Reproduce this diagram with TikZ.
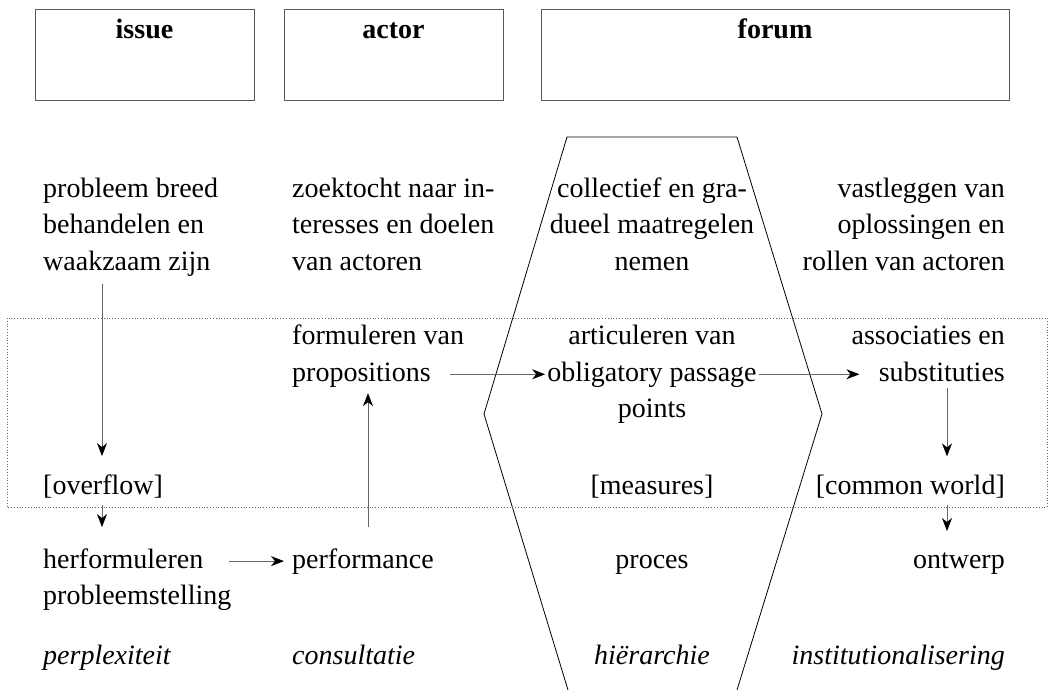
\documentclass[tikz,border=0pt]{standalone}
\usepackage{fontspec}
\setmainfont{Liberation Serif}
\usetikzlibrary{arrows.meta}
\usetikzlibrary{positioning}

\begin{document}
\begin{tikzpicture} [
          x=1pt, y=-1pt,
          txt/.style = {inner sep=0pt, font=\fontsize{28}{36.5}\selectfont},
          lft/.style = {txt, align=left, anchor=base west},
          rgt/.style = {txt, align=right, anchor=base east},
          mid/.style = {txt, align=center, anchor=base},
          hdrbox/.style = {draw=black!65, line width=1.2pt, minimum height=91pt, inner sep=0pt, anchor=north west},
          hdr/.style = {inner sep=0pt, anchor=base, font=\fontsize{28}{30}\selectfont\bfseries},
          arr/.style = {draw=black!60, line width=1pt, -{Stealth[length=13pt,width=10pt,inset=4pt,black]}}
          ]
          \useasboundingbox (0,0) rectangle (1051,690);
          % kolomkoppen
          \node[hdrbox, minimum width=219pt] (issuebox) at (35,9) {};
          \node[hdrbox, minimum width=219pt] (actorbox) at (284,9) {};
          \node[hdrbox, minimum width=468pt] (forumbox) at (541,9) {};
          \node[hdr] (issue) at (144.5,39) {issue};
          \node[hdr] (actor) at (393.5,39) {actor};
          \node[hdr] (forum) at (775,39) {forum};
          % zeshoek en kader
          \draw[black, line width=0.8pt] (568,690) -- (484,414) -- (567,137) -- (737,137) -- (822,414) -- (737,690);
          \draw[black!60, dotted, line width=0.8pt] (7,318) rectangle (1047,507);
          % kolommen voor de pijlen
          \coordinate (lcol) at (102,0);
          \coordinate (acol) at (368,0);
          \coordinate (rcol) at (947,0);
          % rij 1 (base = laatste regel)
          \node[lft] (probl) at (43,270) {probleem breed\\behandelen en\\waakzaam zijn};
          \node[lft] (zoek) at (292,270) {zoektocht naar in-\\teresses en doelen\\van actoren};
          \node[mid] (coll) at (652,270) {collectief en gra-\\dueel maatregelen\\nemen};
          \node[rgt] (vast) at (1005,270) {vastleggen van\\oplossingen en\\rollen van actoren};
          % rij 2
          \node[lft] (form) at (292,381) {formuleren van\\propositions};
          \node[mid] (artic) at (652,417.5) {articuleren van\\obligatory passage\\points};
          \node[rgt] (assoc) at (1005,381) {associaties en\\substituties};
          % rij 3
          \node[lft] (overflow) at (43,494) {[overflow]};
          \node[mid] (measures) at (652,494) {[measures]};
          \node[rgt] (common) at (1005,494) {[common world]};
          % rij 4
          \node[lft] (herf) at (43,604.5) {herformuleren\\probleemstelling};
          \node[lft] (perf) at (292,568) {performance};
          \node[mid] (proces) at (652,568) {proces};
          \node[rgt] (ontwerp) at (1005,568) {ontwerp};
          % rij 5
          \node[lft, font=\fontsize{28}{36.5}\selectfont\itshape] (perpl) at (43,664) {perplexiteit};
          \node[lft, font=\fontsize{28}{36.5}\selectfont\itshape] (consult) at (292,664) {consultatie};
          \node[mid, font=\fontsize{28}{36.5}\selectfont\itshape] (hier) at (652,664) {hiërarchie};
          \node[rgt, font=\fontsize{28}{36.5}\selectfont\itshape] (instit) at (1005,664) {institutionalisering};
          % pijlen
          \draw[arr, shorten <=8pt, shorten >=18pt] (probl.south -| lcol) -- (overflow.north -| lcol);
          \draw[arr, shorten <=7pt, shorten >=21pt] (overflow.south -| lcol) -- (herf.north -| lcol);
          \draw[arr, shorten <=21pt, shorten >=6pt] (perf.north -| acol) -- (form.south -| acol);
          \draw[arr, shorten <=-14pt, shorten >=2pt] (form.east |- artic.west) -- (artic.west);
          \draw[arr, shorten <=2pt, shorten >=-8pt] (artic.east) -- (assoc.west |- artic.east);
          \draw[arr, shorten <=7pt, shorten >=18pt] (assoc.south -| rcol) -- (common.north -| rcol);
          \draw[arr, shorten <=7pt, shorten >=21pt] (common.south -| rcol) -- (ontwerp.north -| rcol);
          \draw[arr, shorten <=-3pt, shorten >=8pt] (herf.east |- perf.west) -- (perf.west);
        \end{tikzpicture}
\end{document}
